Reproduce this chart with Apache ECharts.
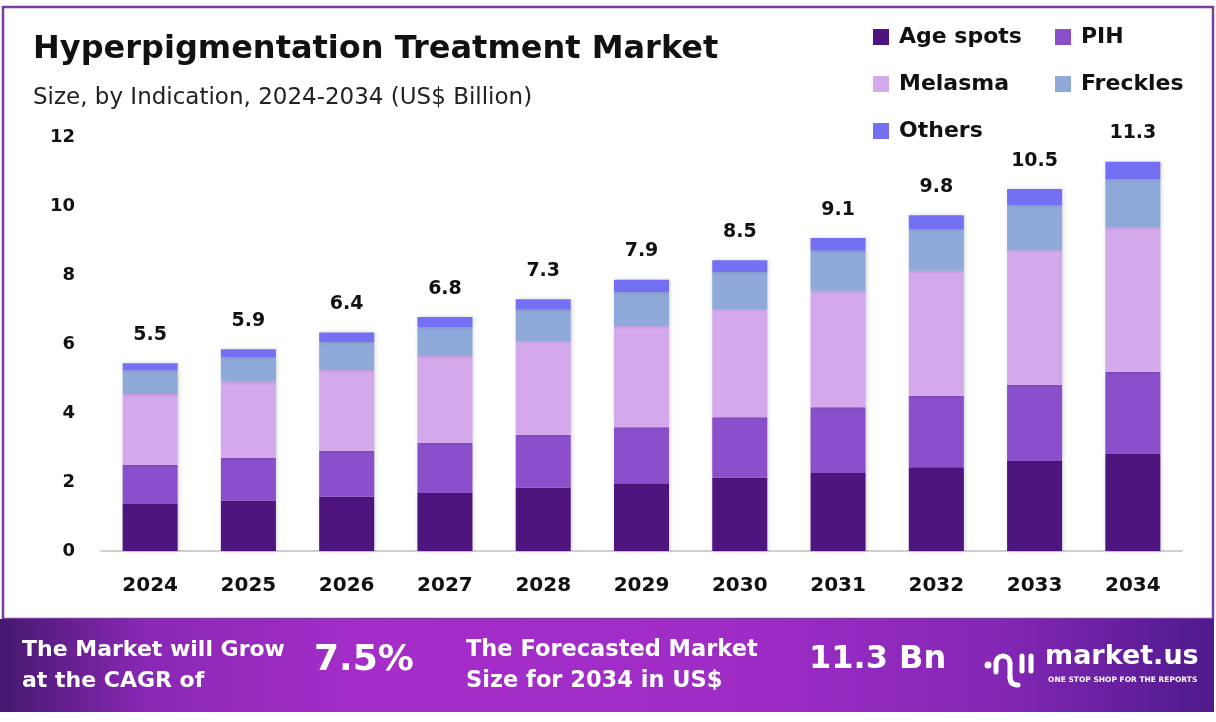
<!DOCTYPE html>
<html><head><meta charset="utf-8">
<script src="https://cdn.jsdelivr.net/npm/echarts@6/dist/echarts.min.js"></script>
<style>html,body{margin:0;padding:0;background:#fff}#c{width:1216px;height:722px}</style>
</head><body><div id="c"></div>
<script>
const years = ['2024','2025','2026','2027','2028','2029','2030','2031','2032','2033','2034'];
const ageSpots = [1.36,1.46,1.57,1.68,1.83,1.94,2.12,2.26,2.43,2.61,2.81];
const pih      = [1.13,1.24,1.33,1.45,1.53,1.65,1.76,1.91,2.06,2.20,2.38];
const melasma  = [2.06,2.21,2.35,2.52,2.73,2.93,3.13,3.37,3.63,3.91,4.20];
const freckles = [0.68,0.71,0.81,0.84,0.90,0.99,1.08,1.16,1.21,1.31,1.39];
const others   = [0.21,0.23,0.27,0.29,0.31,0.35,0.34,0.37,0.40,0.46,0.50];
const totals   = ['5.5','5.9','6.4','6.8','7.3','7.9','8.5','9.1','9.8','10.5','11.3'];
const yTicks   = [0,2,4,6,8,10,12];

const FONT = '"DejaVu Sans", sans-serif';
const colors = {'Age spots':'#4F157F','PIH':'#8B4FCB','Melasma':'#D3A9EC','Freckles':'#8FA9DA','Others':'#7370F4'};
const chart = echarts.init(document.getElementById('c'), null, {renderer:'canvas'});

function mk(name, data, isTop){
  const s = {
    name, type:'bar', stack:'total', data, barWidth:'56%',
    itemStyle:{color:colors[name], shadowColor:'rgba(0,0,0,0.18)', shadowBlur:4, shadowOffsetX:1},
    emphasis:{disabled:true}
  };
  if (isTop) {
    s.label = {show:true, position:'top', distance:19, color:'#111', fontFamily:FONT, fontWeight:'bold', fontSize:19,
      formatter: p => totals[p.dataIndex]};
  }
  return s;
}
const legText = {color:'#111', fontFamily:FONT, fontSize:22, fontWeight:'bold', padding:[0,0,0,5]};

chart.setOption({
  animation:false,
  backgroundColor:'#fff',
  title:[
    {text:'Hyperpigmentation Treatment Market', left:28, top:29,
     textStyle:{fontFamily:FONT, fontWeight:'bold', fontSize:32, color:'#111'}},
    {text:'Size, by Indication, 2024-2034 (US$ Billion)', left:28, top:82,
     textStyle:{fontFamily:FONT, fontWeight:'normal', fontSize:23, color:'#222'}}
  ],
  legend:[
    {orient:'vertical', left:868, top:21, itemWidth:16, itemHeight:16, itemGap:25, icon:'rect',
     data:['Age spots','Melasma','Others'], textStyle:legText, selectedMode:false},
    {orient:'vertical', left:1050, top:21, itemWidth:16, itemHeight:16, itemGap:25, icon:'rect',
     data:['PIH','Freckles'], textStyle:legText, selectedMode:false}
  ],
  grid:{left:101, right:34, top:137, bottom:171},
  xAxis:{type:'category', data:years,
    axisLine:{lineStyle:{color:'#d0d0d0', width:2}}, axisTick:{show:false},
    axisLabel:{color:'#111', fontFamily:FONT, fontWeight:'bold', fontSize:20, margin:25}},
  yAxis:{type:'value', min:yTicks[0], max:yTicks[yTicks.length-1], interval:2,
    splitLine:{show:false}, axisLine:{show:false}, axisTick:{show:false},
    axisLabel:{color:'#111', fontFamily:FONT, fontWeight:'bold', fontSize:18, margin:26}},
  series:[
    mk('Age spots', ageSpots),
    mk('PIH', pih),
    mk('Melasma', melasma),
    mk('Freckles', freckles),
    mk('Others', others, true)
  ],
  graphic:[
    {type:'rect', z:-1, shape:{x:3, y:7, width:1210, height:612}, style:{fill:'none', stroke:'#7A3D9C', lineWidth:2.5}},
    {type:'rect', z:10, shape:{x:0, y:619, width:1214, height:93},
     style:{fill:new echarts.graphic.LinearGradient(0,0,1,0,[
       {offset:0,color:'#45186F'},{offset:0.12,color:'#8A28B4'},{offset:0.3,color:'#A52DC9'},
       {offset:0.6,color:'#A02CC6'},{offset:0.82,color:'#8527B6'},{offset:1,color:'#4F1A8C'}])}},
    {type:'text', z:11, x:22, y:635, style:{text:'The Market will Grow\nat the CAGR of', fill:'#fff',
      font:'bold 22px '+FONT, lineHeight:31}},
    {type:'text', z:11, x:314, y:643, style:{text:'7.5%', fill:'#fff', font:'bold 36px '+FONT,
      shadowColor:'rgba(0,0,0,0.35)', shadowBlur:4}},
    {type:'text', z:11, x:466, y:635, style:{text:'The Forecasted Market\nSize for 2034 in US$', fill:'#fff',
      font:'bold 22.5px '+FONT, lineHeight:31}},
    {type:'text', z:11, x:809, y:644, style:{text:'11.3 Bn', fill:'#fff', font:'bold 32px '+FONT,
      shadowColor:'rgba(0,0,0,0.35)', shadowBlur:4}},
    {type:'circle', z:11, shape:{cx:988, cy:665, r:3.5}, style:{fill:'#fff'}},
    {type:'line', z:11, shape:{x1:996, y1:672, x2:996, y2:663}, style:{stroke:'#fff', lineWidth:5, lineCap:'round'}},
    {type:'arc', z:11, shape:{cx:1003, cy:663, r:7, startAngle:Math.PI, endAngle:Math.PI*2}, style:{stroke:'#fff', lineWidth:5, fill:null}},
    {type:'line', z:11, shape:{x1:1010, y1:663, x2:1010, y2:677}, style:{stroke:'#fff', lineWidth:5, lineCap:'round'}},
    {type:'bezierCurve', z:11, shape:{x1:1010, y1:677, cpx1:1010, cpy1:685, x2:1018, y2:685}, style:{stroke:'#fff', lineWidth:5, lineCap:'round', fill:null}},
    {type:'line', z:11, shape:{x1:1022, y1:656, x2:1022, y2:671}, style:{stroke:'#fff', lineWidth:5, lineCap:'round'}},
    {type:'line', z:11, shape:{x1:1031, y1:656, x2:1031, y2:671}, style:{stroke:'#fff', lineWidth:5, lineCap:'round'}},
    {type:'text', z:11, x:1045, y:643, style:{text:'market.us', fill:'#fff', font:'bold 27px '+FONT}},
    {type:'text', z:11, x:1048, y:676, style:{text:'ONE STOP SHOP FOR THE REPORTS', fill:'#fff', font:'bold 7.5px '+FONT}}
  ]
});
</script></body></html>
